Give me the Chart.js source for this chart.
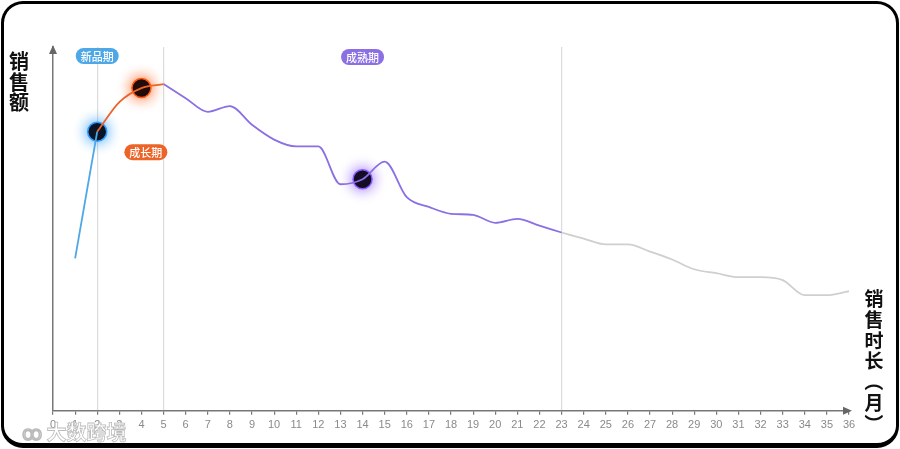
<!DOCTYPE html>
<html>
<head>
<meta charset="utf-8">
<script src="https://cdn.jsdelivr.net/npm/chart.js@4.4.0/dist/chart.umd.min.js"></script>
<style>
    html, body { margin: 0; padding: 0; background: #fff; }
    #wrap { position: relative; width: 900px; height: 449px; overflow: hidden; }
    #chart { position: absolute; left: 0; top: 0; }
    #frame {
        position: absolute; left: 1px; top: 1px; right: 1px; bottom: 1px;
        border: 3px solid #000; border-bottom-width: 5px; border-radius: 22px;
        pointer-events: none;
    }
    .axis-title {
        position: absolute; display: flex; flex-direction: column; align-items: center;
        font-family: "Noto Sans CJK SC", sans-serif; font-weight: 700;
        color: #111; width: 24px;
    }
    .axis-title span { display: block; }
    .axis-title .rot { transform: rotate(90deg); }
    #ytitle { left: 7px; top: 51px; font-size: 20px; line-height: 20.5px; }
    #xtitle { left: 862px; top: 288px; font-size: 19px; line-height: 20.8px; }
    #watermark {
        position: absolute; left: 22px; top: 417px;
        font-family: "Noto Sans CJK SC", sans-serif; font-weight: 700; font-size: 20px;
        color: rgba(255,255,255,0.85); -webkit-text-stroke: 0.8px #bbb;
    }
</style>
</head>
<body>
<div id="wrap">
    <canvas id="chart" width="900" height="449"></canvas>
    <div id="ytitle" class="axis-title"><span>销</span><span>售</span><span>额</span></div>
    <div id="xtitle" class="axis-title"><span>销</span><span>售</span><span>时</span><span>长</span><span class="rot">（</span><span>月</span><span class="rot">）</span></div>
    <div id="watermark">ꝏ 大数跨境</div>
    <div id="frame"></div>
</div>
<script>
// Sales by month
const months = [1, 2, 3, 4, 5, 6, 7, 8, 9, 10, 11, 12, 13, 14, 15, 16, 17, 18,
    19, 20, 21, 22, 23, 24, 25, 26, 27, 28, 29, 30, 31, 32, 33, 34, 35, 36];
const sales = [42.3, 77.5, 85.7, 89.6, 90.7, 86.8, 83.0, 84.6, 79.4, 75.3, 73.4, 73.4,
    62.9, 64.3, 69.2, 59.3, 56.6, 54.7, 54.4, 52.2, 53.3, 51.4, 49.5, 47.8,
    46.2, 46.2, 44.2, 42.0, 39.3, 38.2, 37.1, 37.1, 36.3, 32.1, 32.1, 33.2];

// Phases: label, first / last month, colour
const phaseNames = ['新品期', '成长期', '成熟期', '衰退期'];
const phaseStarts = [1, 2, 5, 23];
const phaseEnds = [2, 5, 23, 36];
const phaseColors = ['#4ea7e6', '#ec6427', '#8b6fe3', '#cfcfcf'];
const dividerMonths = [2, 5, 23];

// Highlighted months
const markMonths = [2, 4, 14];
const markGlows = ['#2f9cff', '#ff5a14', '#8a5cff'];

// one line per phase, sharing the boundary month
const phaseSets = phaseNames.map(function(name, p) {
    const pts = [];
    months.forEach(function(m, i) {
        if (m >= phaseStarts[p] && m <= phaseEnds[p]) pts.push({ x: m, y: sales[i] });
    });
    return {
        label: name,
        data: pts,
        borderColor: phaseColors[p],
        borderWidth: 1.8,
        pointRadius: 0,
        cubicInterpolationMode: 'monotone'
    };
});

const markSets = markMonths.map(function(m, i) {
    return {
        data: [{ x: m, y: sales[months.indexOf(m)] }],
        glow: markGlows[i],
        showLine: false,
        pointRadius: 9.5,
        pointBackgroundColor: '#050308',
        pointBorderColor: markGlows[i],
        pointBorderWidth: 1.5,
        pointHoverRadius: 9.5
    };
});

// glow around highlighted dots
const glowPlugin = {
    id: 'glow',
    beforeDatasetDraw: function(chart, args) {
        const ds = chart.data.datasets[args.index];
        if (ds.glow) {
            chart.ctx.save();
            chart.ctx.shadowColor = ds.glow;
            chart.ctx.shadowBlur = 14;
        }
    },
    afterDatasetDraw: function(chart, args) {
        if (chart.data.datasets[args.index].glow) chart.ctx.restore();
    }
};

// axis arrows + phase pills
const decorPlugin = {
    id: 'decor',
    afterDraw: function(chart) {
        const ctx = chart.ctx;
        const a = chart.chartArea;
        const xs = chart.scales.x, ys = chart.scales.y;
        ctx.save();
        ctx.fillStyle = '#666';
        ctx.beginPath();
        ctx.moveTo(a.left, a.top - 2);
        ctx.lineTo(a.left - 4, a.top + 7);
        ctx.lineTo(a.left + 4, a.top + 7);
        ctx.closePath();
        ctx.fill();
        ctx.beginPath();
        ctx.moveTo(a.right + 3, a.bottom);
        ctx.lineTo(a.right - 6, a.bottom - 4);
        ctx.lineTo(a.right - 6, a.bottom + 4);
        ctx.closePath();
        ctx.fill();

        const pills = [
            { text: phaseNames[0], color: phaseColors[0], x: xs.getPixelForValue(2), y: a.top + 9 },
            { text: phaseNames[1], color: phaseColors[1], x: xs.getPixelForValue(4.2), y: ys.getPixelForValue(71.8) },
            { text: phaseNames[2], color: phaseColors[2], x: xs.getPixelForValue(14), y: a.top + 10 }
        ];
        ctx.font = '500 11px "Noto Sans CJK SC", sans-serif';
        ctx.textAlign = 'center';
        ctx.textBaseline = 'middle';
        pills.forEach(function(p) {
            const w = ctx.measureText(p.text).width + 10;
            ctx.fillStyle = p.color;
            ctx.beginPath();
            ctx.roundRect(p.x - w / 2, p.y - 8, w, 16, 8);
            ctx.fill();
            ctx.fillStyle = '#fff';
            ctx.fillText(p.text, p.x, p.y + 0.5);
        });
        ctx.restore();
    }
};

new Chart(document.getElementById('chart').getContext('2d'), {
    type: 'line',
    data: { datasets: phaseSets.concat(markSets) },
    options: {
        responsive: false,
        animation: false,
        layout: { padding: { left: 45, right: 51, top: 47, bottom: 13 } },
        plugins: { legend: { display: false }, tooltip: { enabled: false } },
        scales: {
            x: {
                type: 'linear',
                min: 0,
                max: 36,
                ticks: {
                    stepSize: 1,
                    color: '#8a8a8a',
                    padding: 4,
                    font: { family: 'Liberation Sans', size: 11 }
                },
                grid: {
                    color: function(c) {
                        return dividerMonths.includes(c.tick.value) ? '#dcdcdc' : 'rgba(0,0,0,0)';
                    },
                    lineWidth: 1.2,
                    tickColor: '#777',
                    tickLength: 4
                },
                border: { display: true, color: '#777', width: 1.5 }
            },
            y: {
                min: 0,
                max: 101,
                ticks: { display: false },
                grid: { display: false },
                border: { display: true, color: '#777', width: 1.5 }
            }
        }
    },
    plugins: [glowPlugin, decorPlugin]
});
</script>
</body>
</html>
